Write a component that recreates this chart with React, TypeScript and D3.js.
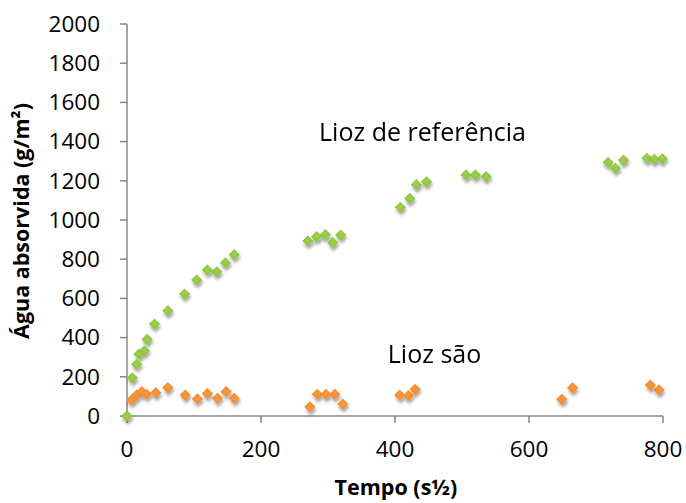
import React from "react";
import * as d3 from "d3";

// Lioz de referência (green) — tempo (s½) vs água absorvida (g/m²)
const refTime = [0, 8, 14.5, 18, 26, 30, 41, 61, 86, 104, 120, 134, 147, 160, 270, 283, 296, 307, 319, 408, 422, 432, 447, 506, 520, 536, 718, 729, 741, 776, 787, 799];
const refWater = [0, 195, 264, 316, 333, 391, 469, 537, 622, 694, 745, 736, 782, 823, 893, 915, 925, 885, 923, 1065, 1110, 1180, 1195, 1230, 1230, 1222, 1294, 1264, 1306, 1315, 1310, 1312];

// Lioz são (orange)
const saoTime = [0, 7, 14.5, 22, 29, 43, 61, 87, 105, 120, 135, 148, 160, 273, 284, 297, 310, 322, 407, 420, 430, 649, 665, 781, 794];
const saoWater = [0, 82, 107, 124, 112, 119, 145, 107, 87, 115, 90, 124, 90, 47, 111, 111, 111, 61, 107, 104, 136, 85, 144, 158, 133];

const xTicks = [0, 200, 400, 600, 800];
const yTicks = [0, 200, 400, 600, 800, 1000, 1200, 1400, 1600, 1800, 2000];

const W = 686;
const H = 503;
const FONT = "'Open Sans', 'Liberation Sans', sans-serif";

export default function App() {
  const x = d3.scaleLinear().domain([0, 800]).range([127, 663]);
  const y = d3.scaleLinear().domain([0, 2000]).range([416, 24]);
  const axisColor = "#868686";
  const diamond = d3.symbol().type(d3.symbolDiamond2).size(80)();

  const refPts = refTime.map((t, i) => [t, refWater[i]]);
  const saoPts = saoTime.map((t, i) => [t, saoWater[i]]);

  return (
    <svg
      width={W}
      height={H}
      style={{ position: "absolute", left: 0, top: 0, background: "#fff" }}
    >
      <defs>
        <filter id="shadow" x="-50%" y="-50%" width="200%" height="200%">
          <feDropShadow dx="1" dy="3" stdDeviation="1.8" floodColor="#000" floodOpacity="0.35" />
        </filter>
        <radialGradient id="gGreen" cx="50%" cy="45%" r="60%">
          <stop offset="0%" stopColor="#9fd24e" />
          <stop offset="100%" stopColor="#84bd38" />
        </radialGradient>
        <radialGradient id="gOrange" cx="50%" cy="45%" r="60%">
          <stop offset="0%" stopColor="#fa9a3c" />
          <stop offset="100%" stopColor="#f0842a" />
        </radialGradient>
      </defs>

      {/* axes */}
      <line x1={x(0)} x2={x(800)} y1={y(0)} y2={y(0)} stroke={axisColor} strokeWidth={1.5} />
      <line x1={x(0)} x2={x(0)} y1={y(0)} y2={y(2000)} stroke={axisColor} strokeWidth={1.5} />
      {yTicks.map((t) => (
        <g key={"y" + t}>
          <line x1={x(0) - 7} x2={x(0)} y1={y(t)} y2={y(t)} stroke={axisColor} strokeWidth={1.5} />
          <text
            x={x(0) - 27}
            y={y(t)}
            dy="0.35em"
            textAnchor="end"
            fontFamily={FONT}
            fontSize={22.5}
            fill="#000"
          >
            {t}
          </text>
        </g>
      ))}
      {xTicks.map((t) => (
        <g key={"x" + t}>
          <line x1={x(t)} x2={x(t)} y1={y(0)} y2={y(0) + 7} stroke={axisColor} strokeWidth={1.5} />
          <text
            x={x(t)}
            y={y(0) + 41}
            textAnchor="middle"
            fontFamily={FONT}
            fontSize={22.5}
            fill="#000"
          >
            {t}
          </text>
        </g>
      ))}

      {/* axis titles */}
      <text
        x={396}
        y={495}
        textAnchor="middle"
        fontFamily={FONT}
        fontWeight="bold"
        fontSize={21.5}
      >
        Tempo (s½)
      </text>
      <text
        transform={`translate(29,${221}) rotate(-90)`}
        textAnchor="middle"
        fontFamily={FONT}
        fontWeight="bold"
        fontSize={21.5}
      >
        Água absorvida (g/m²)
      </text>

      {/* series */}
      <g filter="url(#shadow)">
        {saoPts.map(([t, v], i) => (
          <path key={"s" + i} d={diamond} transform={`translate(${x(t)},${y(v)})`} fill="url(#gOrange)" />
        ))}
        {refPts.map(([t, v], i) => (
          <path key={"r" + i} d={diamond} transform={`translate(${x(t)},${y(v)})`} fill="url(#gGreen)" />
        ))}
      </g>

      {/* series labels */}
      <text x={422.5} y={141} textAnchor="middle" fontFamily={FONT} fontSize={25} fill="#000">
        Lioz de referência
      </text>
      <text x={434.5} y={363} textAnchor="middle" fontFamily={FONT} fontSize={25} fill="#000">
        Lioz são
      </text>
    </svg>
  );
}
